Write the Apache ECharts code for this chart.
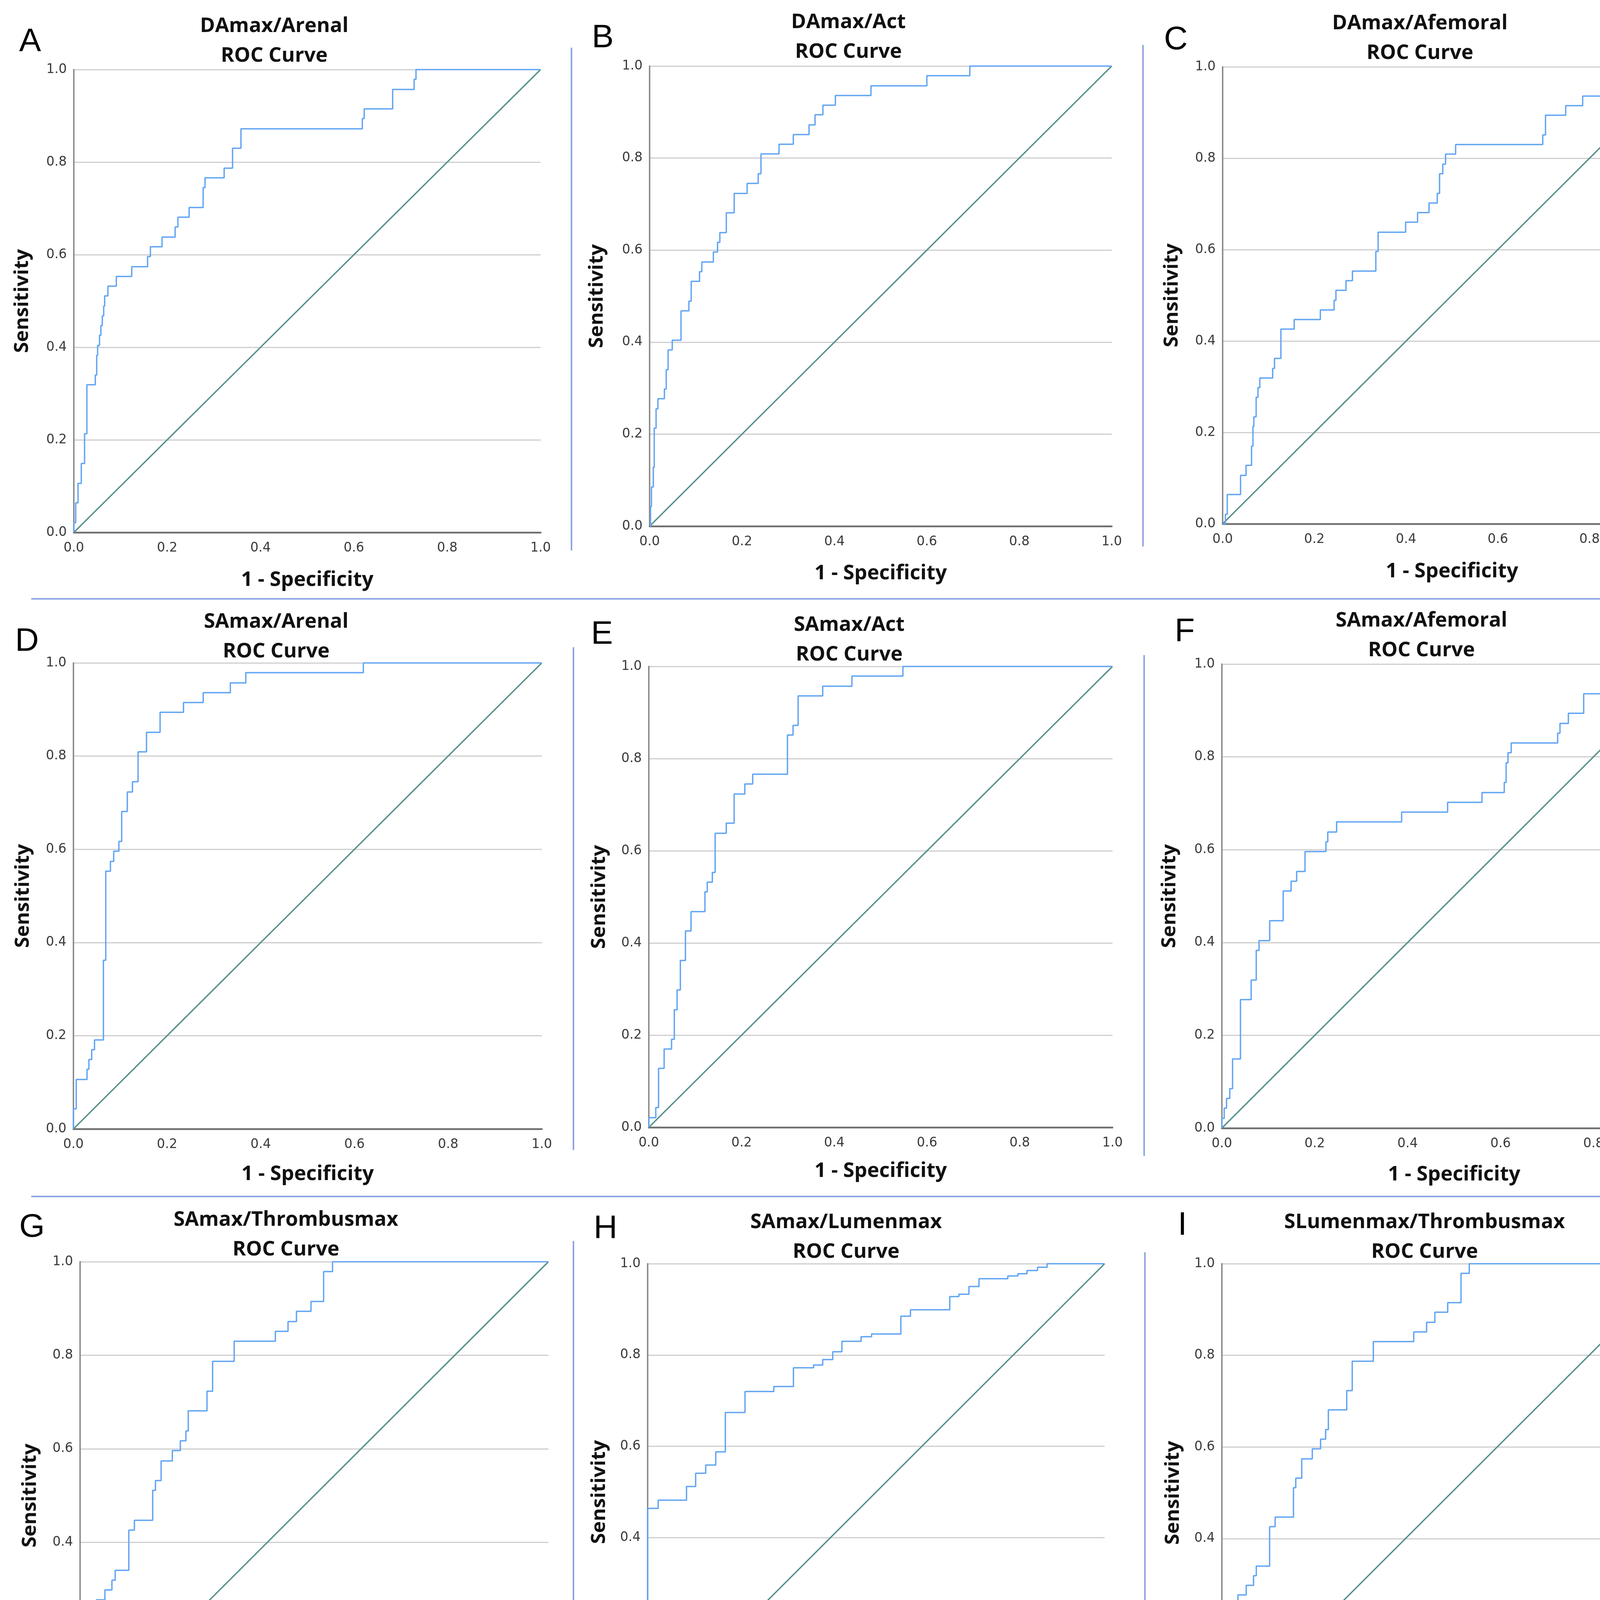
<!DOCTYPE html>
<html>
<head>
<meta charset="utf-8">
<script src="https://cdn.jsdelivr.net/npm/echarts@6/dist/echarts.min.js"></script>
<style>
  html, body { margin: 0; padding: 0; background: #fff; }
  #graph { width: 4392px; height: 4579px; }
</style>
</head>
<body>
<div id="graph"></div>
<script>
const panelLetters = ["A", "B", "C", "D", "E", "F", "G", "H", "I"];
const panelTitles = [
  "DAmax/Arenal", "DAmax/Act", "DAmax/Afemoral",
  "SAmax/Arenal", "SAmax/Act", "SAmax/Afemoral",
  "SAmax/Thrombusmax", "SAmax/Lumenmax", "SLumenmax/Thrombusmax"
];
const subTitle = "ROC Curve";
const xAxisTitle = "1 - Specificity";
const yAxisTitle = "Sensitivity";
const axisTicks = [0.0, 0.2, 0.4, 0.6, 0.8, 1.0];

// ROC points [1 - specificity, sensitivity]
const rocA = [[0,0],[0,0.021],[0.004,0.064],[0.009,0.106],[0.016,0.149],[0.023,0.213],[0.028,0.255],[0.028,0.319],
  [0.046,0.340],[0.049,0.383],[0.051,0.404],[0.055,0.426],[0.058,0.447],[0.061,0.468],[0.064,0.489],[0.066,0.511],
  [0.073,0.532],[0.091,0.553],[0.124,0.574],[0.158,0.596],[0.164,0.617],[0.189,0.638],[0.217,0.660],[0.223,0.681],
  [0.247,0.702],[0.277,0.745],[0.281,0.766],[0.322,0.787],[0.340,0.830],[0.358,0.872],[0.618,0.894],[0.622,0.915],
  [0.683,0.957],[0.729,0.979],[0.733,1.0],[1,1]];
const rocB = [[0,0],[0.002,0.043],[0.004,0.085],[0.008,0.128],[0.010,0.213],[0.014,0.255],[0.018,0.277],[0.032,0.298],
  [0.036,0.340],[0.040,0.383],[0.049,0.404],[0.068,0.468],[0.085,0.489],[0.090,0.532],[0.108,0.553],[0.113,0.574],
  [0.138,0.596],[0.147,0.617],[0.152,0.638],[0.166,0.681],[0.183,0.723],[0.211,0.745],[0.235,0.766],[0.241,0.809],
  [0.280,0.830],[0.311,0.851],[0.345,0.872],[0.358,0.894],[0.375,0.915],[0.402,0.936],[0.479,0.957],[0.600,0.979],
  [0.693,1.0],[1,1]];
const rocC = [[0,0],[0.006,0.021],[0.010,0.064],[0.039,0.106],[0.051,0.128],[0.063,0.170],[0.066,0.213],[0.068,0.234],
  [0.073,0.277],[0.077,0.298],[0.081,0.319],[0.109,0.340],[0.113,0.362],[0.127,0.426],[0.156,0.447],[0.213,0.468],
  [0.243,0.489],[0.247,0.511],[0.269,0.532],[0.283,0.553],[0.334,0.596],[0.339,0.638],[0.399,0.660],[0.425,0.681],
  [0.450,0.702],[0.468,0.723],[0.473,0.766],[0.480,0.787],[0.486,0.809],[0.508,0.830],[0.698,0.851],[0.704,0.894],
  [0.748,0.915],[0.785,0.936],[0.832,0.957],[0.930,0.979],[0.954,1.0],[1,1]];
const rocD = [[0,0],[0,0.043],[0.006,0.106],[0.029,0.128],[0.033,0.149],[0.039,0.170],[0.045,0.191],[0.064,0.362],
  [0.069,0.553],[0.079,0.574],[0.086,0.596],[0.097,0.617],[0.103,0.681],[0.115,0.723],[0.126,0.745],[0.138,0.809],
  [0.156,0.851],[0.185,0.894],[0.235,0.915],[0.277,0.936],[0.335,0.957],[0.368,0.979],[0.619,1.0],[1,1]];
const rocE = [[0,0],[0,0.021],[0.015,0.043],[0.021,0.128],[0.033,0.170],[0.049,0.191],[0.055,0.255],[0.061,0.298],
  [0.068,0.362],[0.079,0.426],[0.091,0.468],[0.121,0.511],[0.126,0.532],[0.137,0.553],[0.143,0.638],[0.167,0.660],
  [0.184,0.723],[0.207,0.745],[0.224,0.766],[0.299,0.851],[0.311,0.872],[0.322,0.936],[0.375,0.957],[0.438,0.979],
  [0.548,1.0],[1,1]];
const rocF = [[0,0],[0,0.021],[0.005,0.043],[0.010,0.064],[0.017,0.085],[0.023,0.149],[0.040,0.277],[0.063,0.319],
  [0.074,0.383],[0.080,0.404],[0.103,0.447],[0.132,0.511],[0.149,0.532],[0.161,0.553],[0.179,0.596],[0.224,0.617],
  [0.228,0.638],[0.247,0.660],[0.387,0.681],[0.486,0.702],[0.560,0.723],[0.608,0.745],[0.612,0.787],[0.616,0.809],
  [0.623,0.830],[0.723,0.851],[0.728,0.872],[0.746,0.894],[0.779,0.936],[0.880,1.0],[1,1]];
const rocG = [[0,0],[0,0.128],[0.011,0.149],[0.016,0.170],[0.021,0.191],[0.028,0.213],[0.035,0.277],[0.053,0.298],
  [0.068,0.319],[0.075,0.340],[0.104,0.426],[0.116,0.447],[0.155,0.511],[0.161,0.532],[0.173,0.574],[0.197,0.596],
  [0.214,0.617],[0.226,0.638],[0.231,0.681],[0.271,0.723],[0.283,0.787],[0.329,0.830],[0.417,0.851],[0.444,0.872],
  [0.462,0.894],[0.493,0.915],[0.520,0.979],[0.539,1.0],[1,1]];
const rocH = [[0,0],[0,0.464],[0.023,0.482],[0.085,0.512],[0.105,0.541],[0.127,0.559],[0.149,0.588],[0.170,0.674],
  [0.213,0.720],[0.276,0.731],[0.319,0.772],[0.363,0.778],[0.383,0.790],[0.405,0.807],[0.425,0.830],[0.467,0.840],
  [0.490,0.846],[0.554,0.885],[0.575,0.899],[0.661,0.928],[0.681,0.933],[0.703,0.950],[0.725,0.967],[0.788,0.973],
  [0.810,0.978],[0.830,0.985],[0.853,0.992],[0.874,1.0],[1,1]];
const rocI = [[0,0],[0,0.128],[0.013,0.149],[0.017,0.170],[0.023,0.191],[0.030,0.213],[0.035,0.277],[0.053,0.298],
  [0.069,0.319],[0.075,0.340],[0.104,0.426],[0.116,0.447],[0.156,0.511],[0.161,0.532],[0.174,0.574],[0.197,0.596],
  [0.215,0.617],[0.226,0.638],[0.232,0.681],[0.272,0.723],[0.284,0.787],[0.330,0.830],[0.418,0.851],[0.446,0.872],
  [0.464,0.894],[0.492,0.915],[0.521,0.979],[0.539,1.0],[1,1]];
const referenceLine = [[0, 0], [1, 1]];

const rocCurves = [rocA, rocB, rocC, rocD, rocE, rocF, rocG, rocH, rocI];

// page layout in px: plot box, title centre, panel letter, axis name gaps
const panels = [
  { box: [189, 178, 1384, 1363], title: [702, 64], letter: [77, 108], xGap: 96, yGap: 106 },
  { box: [1663, 169, 2846, 1347], title: [2172, 54], letter: [1543, 98], xGap: 95, yGap: 109 },
  { box: [3130, 171, 4304, 1341], title: [3635, 57], letter: [3010, 103], xGap: 96, yGap: 104 },
  { box: [188, 1697, 1387, 2890], title: [707, 1589], letter: [69, 1643], xGap: 90, yGap: 103 },
  { box: [1661, 1706, 2848, 2886], title: [2174, 1597], letter: [1541, 1625], xGap: 86, yGap: 101 },
  { box: [3128, 1700, 4317, 2888], title: [3639, 1586], letter: [3033, 1618], xGap: 93, yGap: 108 },
  { box: [205, 3230, 1404, 4427], title: [732, 3120], letter: [82, 3143], xGap: 87, yGap: 102 },
  { box: [1658, 3235, 2828, 4404], title: [2166, 3126], letter: [1550, 3147], xGap: 86, yGap: 98 },
  { box: [3128, 3235, 4303, 4408], title: [3647, 3126], letter: [3027, 3138], xGap: 86, yGap: 99 }
];
const vSeparators = [
  [1463, 122, 1409], [2926, 115, 1399],
  [1468, 1657, 2944], [2929, 1677, 2959],
  [1468, 3177, 4463], [2931, 3206, 4492]
];
const hSeparators = [[1533, 80, 4342], [3063, 80, 4342]];

const LABEL_FONT = "DejaVu Sans";
const TITLE_FONT = "Open Sans";
const ROC_COLOR = "#62a5f3";
const DIAG_COLOR = "#54908a";
const SEP_COLOR = "#8fa4e4";

function createOptions() {
  const grids = [], xAxes = [], yAxes = [], series = [], graphics = [];
  panels.forEach((p, i) => {
    const [l, t, r, b] = p.box;
    grids.push({ left: l, top: t, width: r - l, height: b - t, containLabel: false });
    xAxes.push({
      gridIndex: i, type: "value", min: axisTicks[0], max: axisTicks[axisTicks.length - 1], interval: 0.2,
      name: xAxisTitle, nameLocation: "middle", nameGap: p.xGap,
      nameTextStyle: { fontFamily: TITLE_FONT, fontWeight: "bold", fontSize: 52, color: "#111" },
      axisLine: { show: true, onZero: false, lineStyle: { color: "#6e6e6e", width: 4.5 } },
      axisTick: { show: false },
      splitLine: { show: false },
      axisLabel: { margin: 24, fontFamily: LABEL_FONT, fontSize: 33, color: "#3a3a3a", formatter: v => v.toFixed(1) }
    });
    yAxes.push({
      gridIndex: i, type: "value", min: axisTicks[0], max: axisTicks[axisTicks.length - 1], interval: 0.2,
      name: yAxisTitle, nameLocation: "middle", nameGap: p.yGap,
      nameTextStyle: { fontFamily: TITLE_FONT, fontWeight: "bold", fontSize: 51, color: "#111" },
      axisLine: { show: true, onZero: false, lineStyle: { color: "#858585", width: 3.5 } },
      axisTick: { show: false },
      splitLine: { show: true, lineStyle: { color: "#cfcfcf", width: 3 } },
      axisLabel: { margin: 18, fontFamily: LABEL_FONT, fontSize: 33, color: "#3a3a3a", formatter: v => v.toFixed(1) }
    });
    series.push({
      type: "line", xAxisIndex: i, yAxisIndex: i, data: referenceLine,
      showSymbol: false, silent: true, lineStyle: { color: DIAG_COLOR, width: 3.5 }, z: 2
    });
    series.push({
      name: panelTitles[i], type: "line", xAxisIndex: i, yAxisIndex: i, data: rocCurves[i],
      step: "end", showSymbol: false, silent: true, lineStyle: { color: ROC_COLOR, width: 3.5 }, z: 3
    });
    graphics.push({
      type: "text", x: p.title[0], y: p.title[1] + 3 + 38,
      style: {
        text: panelTitles[i] + "\n" + subTitle, align: "center", verticalAlign: "middle",
        font: "bold 52px '" + TITLE_FONT + "'", lineHeight: 76, fill: "#111"
      }
    });
    graphics.push({
      type: "text", x: p.letter[0], y: p.letter[1],
      style: {
        text: panelLetters[i], align: "center", verticalAlign: "middle",
        font: "84px 'Liberation Sans'", fill: "#000"
      }
    });
  });
  vSeparators.forEach(s => graphics.push({
    type: "line", shape: { x1: s[0], y1: s[1], x2: s[0], y2: s[2] },
    style: { stroke: SEP_COLOR, lineWidth: 4 }
  }));
  hSeparators.forEach(s => graphics.push({
    type: "line", shape: { x1: s[1], y1: s[0], x2: s[2], y2: s[0] },
    style: { stroke: SEP_COLOR, lineWidth: 4 }
  }));
  return {
    animation: false,
    backgroundColor: "#fff",
    grid: grids,
    xAxis: xAxes,
    yAxis: yAxes,
    series: series,
    graphic: graphics
  };
}

const myChart = echarts.init(document.getElementById("graph"), null, { renderer: "canvas" });
myChart.setOption(createOptions());
</script>
</body>
</html>
